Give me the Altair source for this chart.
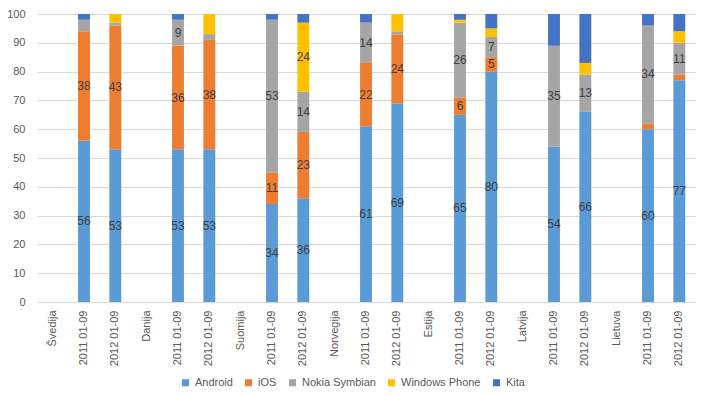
import altair as alt
import pandas as pd

countries = ["Švedija", "Danija", "Suomija", "Norvegija", "Estija", "Latvija", "Lietuva"]
periods = ["2011 01-09", "2012 01-09"]
series = ["Android", "iOS", "Nokia Symbian", "Windows Phone", "Kita"]
colors = ["#5B9BD5", "#ED7D31", "#A5A5A5", "#FFC000", "#4472C4"]

android = [56, 53, 53, 53, 34, 36, 61, 69, 65, 80, 54, 66, 60, 77]
ios = [38, 43, 36, 38, 11, 23, 22, 24, 6, 5, 0, 0, 2, 2]
symbian = [4, 1, 9, 2, 53, 14, 14, 1, 26, 7, 35, 13, 34, 11]
wphone = [0, 3, 0, 7, 0, 24, 0, 6, 1, 3, 0, 4, 0, 4]
kita = [2, 0, 2, 0, 2, 3, 3, 0, 2, 5, 11, 17, 4, 6]
y_ticks = [0, 10, 20, 30, 40, 50, 60, 70, 80, 90, 100]

values = [android, ios, symbian, wphone, kita]
# minimum value for a visible data label, per series (None = never labelled)
label_min = [0, 5, 7, 10, None]

domain = []
bar_keys = []
for c in countries:
    domain.append(c)
    for p in periods:
        k = f"{c}|{p}"
        domain.append(k)
        bar_keys.append(k)

rows = []
lab_rows = []
for bi, key in enumerate(bar_keys):
    base = 0
    for si, s in enumerate(series):
        v = values[si][bi]
        rows.append({"key": key, "series": s, "order": si, "value": v})
        lm = label_min[si]
        if lm is not None and v >= lm and v > 0:
            lab_rows.append({"key": key, "series": s, "mid": base + v / 2, "label": str(v)})
        base += v

df = pd.DataFrame(rows)
ldf = pd.DataFrame(lab_rows)

font = "Liberation Sans"
xscale = alt.Scale(domain=domain, paddingInner=0.62, paddingOuter=0.31)
yscale = alt.Scale(domain=[0, 100], nice=False)

xaxis = alt.Axis(
    title=None,
    labelAngle=270,
    labelExpr="indexof(datum.label, '|') >= 0 ? split(datum.label, '|')[1] : datum.label",
    ticks=False,
    domainColor="#D9D9D9",
    labelColor="#595959",
    labelFontSize=11,
    labelFont=font,
    labelPadding=8,
    labelOverlap=False,
    grid=False,
)
yaxis = alt.Axis(
    title=None,
    values=y_ticks,
    domain=False,
    ticks=False,
    grid=True,
    gridColor="#D9D9D9",
    labelColor="#595959",
    labelFontSize=11,
    labelFont=font,
    labelPadding=12,
    labelOverlap=False,
)

bars = alt.Chart(df).mark_bar().encode(
    x=alt.X("key:N", scale=xscale, axis=xaxis),
    y=alt.Y("value:Q", stack="zero", scale=yscale, axis=yaxis),
    color=alt.Color(
        "series:N",
        scale=alt.Scale(domain=series, range=colors),
        sort=series,
        legend=alt.Legend(
            title=None,
            orient="none",
            legendX=143,
            legendY=363,
            direction="horizontal",
            symbolType="square",
            symbolSize=50,
            symbolStrokeWidth=0,
            labelFontSize=11,
            labelFont=font,
            labelColor="#595959",
            columnPadding=10,
            labelOffset=4,
        ),
    ),
    order=alt.Order("order:Q", sort="ascending"),
)

labels = alt.Chart(ldf).mark_text(
    fontSize=12, font=font, color="#404040", baseline="middle", align="center"
).encode(
    x=alt.X("key:N", scale=xscale, axis=xaxis),
    y=alt.Y("mid:Q", scale=yscale, axis=yaxis),
    text="label:N",
)

chart = (
    alt.layer(bars, labels)
    .properties(
        width=658,
        height=288,
        autosize=alt.AutoSizeParams(type="none"),
        padding={"left": 29, "top": 6, "right": 3, "bottom": 92},
    )
    .configure_view(stroke=None)
)

chart.save("out.html", embed_options={"renderer": "svg", "actions": False})
